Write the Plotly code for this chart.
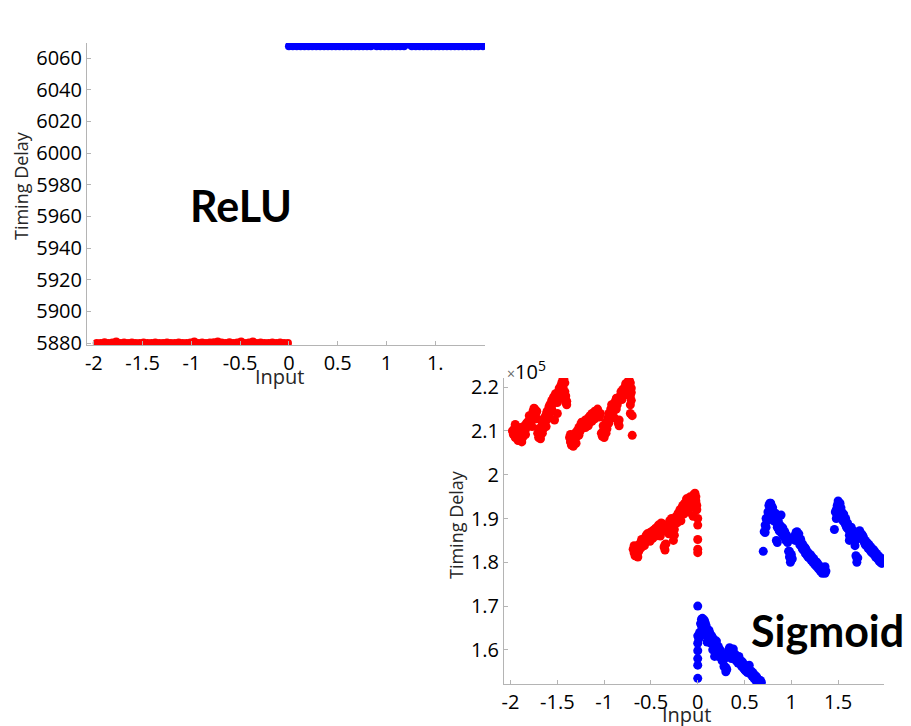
import plotly.graph_objects as go

# ---------------- ReLU panel data ----------------
relu_neg_x = [-1.97, -1.93, -1.89, -1.85, -1.81, -1.77, -1.73, -1.69, -1.65, -1.61,
              -1.57, -1.53, -1.49, -1.45, -1.41, -1.37, -1.33, -1.29, -1.25, -1.21,
              -1.17, -1.13, -1.09, -1.05, -1.01, -0.97, -0.93, -0.89, -0.85, -0.81,
              -0.77, -0.73, -0.69, -0.65, -0.61, -0.57, -0.53, -0.49, -0.45, -0.41,
              -0.37, -0.33, -0.29, -0.25, -0.21, -0.17, -0.13, -0.09, -0.05, -0.01]
relu_neg_y = [5880, 5880, 5880.5, 5880, 5880.4, 5881, 5880, 5880.3, 5880, 5880.4,
              5880, 5880, 5880.3, 5880, 5880, 5880.4, 5880, 5880, 5880.3, 5880,
              5880, 5880.4, 5880, 5880, 5880.3, 5881, 5880, 5880.4, 5880, 5880.3,
              5880.5, 5881, 5880.4, 5880, 5880.5, 5880, 5880.3, 5881, 5880, 5880.3,
              5881, 5880, 5880.4, 5880, 5880, 5880.3, 5880, 5880.4, 5880, 5880]
relu_pos_x = [0.00, 0.04, 0.08, 0.12, 0.16, 0.20, 0.24, 0.28, 0.32, 0.36,
              0.40, 0.44, 0.48, 0.52, 0.56, 0.60, 0.64, 0.68, 0.72, 0.76,
              0.80, 0.84, 0.87, 0.90, 0.94, 0.98, 1.02, 1.06, 1.10, 1.14,
              1.18, 1.23, 1.26, 1.30, 1.34, 1.38, 1.42, 1.46, 1.50, 1.54,
              1.58, 1.62, 1.66, 1.70, 1.74, 1.78, 1.82, 1.86, 1.90, 1.94, 1.99]
relu_pos_y = [6067.5, 6067.5, 6067.5, 6067.5, 6067.5, 6067.5, 6067.5, 6067.5, 6067.5, 6067.5,
              6067.5, 6067.5, 6067.5, 6067.5, 6067.5, 6067.5, 6067.5, 6067.5, 6067.5, 6067.5,
              6067.5, 6067.5, 6068.6, 6067.5, 6067.5, 6067.5, 6067.5, 6067.5, 6067.5, 6067.5,
              6067.5, 6068.6, 6067.5, 6067.5, 6067.5, 6067.5, 6067.5, 6067.5, 6067.5, 6067.5,
              6067.5, 6067.5, 6067.5, 6067.5, 6067.5, 6067.5, 6067.5, 6067.5, 6067.5, 6067.5, 6067.5]

# ---------------- Sigmoid panel data (timing delay in units of 1e5) ----------------
# inputs below zero
sig_neg_x = [
    -1.98, -1.97, -1.96, -1.95, -1.94, -1.93, -1.92, -1.91, -1.90, -1.89, -1.88, -1.87, -1.86,
    -1.85, -1.84, -1.83, -1.82, -1.81, -1.80, -1.79, -1.78, -1.77, -1.76, -1.75, -1.74, -1.73,
    -1.72, -1.71, -1.70, -1.69, -1.68, -1.67, -1.66, -1.65, -1.64, -1.63, -1.62, -1.61, -1.60,
    -1.59, -1.58, -1.57, -1.56, -1.55, -1.54, -1.53, -1.52, -1.51, -1.50, -1.49, -1.48, -1.47,
    -1.46, -1.45, -1.44, -1.43, -1.42, -1.41, -1.40,
    -1.37, -1.36, -1.35, -1.34, -1.33, -1.32, -1.31, -1.30, -1.29, -1.28, -1.27, -1.26, -1.25,
    -1.24, -1.23, -1.22, -1.21, -1.20, -1.19, -1.18, -1.17, -1.16, -1.15, -1.14, -1.13, -1.12,
    -1.11, -1.10, -1.09, -1.08, -1.07, -1.06, -1.05,
    -1.03, -1.02, -1.01, -1.00, -0.99, -0.98, -0.97, -0.96, -0.95, -0.94, -0.93, -0.92, -0.91,
    -0.90, -0.89, -0.88, -0.87, -0.86, -0.85, -0.84, -0.83, -0.82, -0.81, -0.80, -0.79, -0.78,
    -0.77, -0.76, -0.75, -0.74, -0.73, -0.72, -0.71, -0.72, -0.71, -0.72, -0.70, -0.70,
    -0.69, -0.68, -0.67, -0.66, -0.65, -0.64, -0.63, -0.62, -0.61, -0.60, -0.59, -0.58, -0.57,
    -0.56, -0.55, -0.54, -0.53, -0.52, -0.51, -0.50, -0.49, -0.48, -0.47, -0.46, -0.45, -0.44,
    -0.43, -0.42, -0.41, -0.40, -0.39, -0.38, -0.37, -0.36, -0.35, -0.34, -0.33, -0.32, -0.31,
    -0.30, -0.29, -0.28, -0.27, -0.26, -0.25, -0.24, -0.23, -0.22, -0.21, -0.20, -0.19, -0.18,
    -0.17, -0.16, -0.15, -0.14, -0.13, -0.12, -0.11, -0.10, -0.09, -0.08, -0.07, -0.06, -0.05,
    -0.04, -0.03, -0.02, -0.01, 0.00, 0.00, 0.00, 0.00, 0.00,
    -1.95, -1.92, -1.88, -1.84, -1.80, -1.77, -1.75, -1.72, -1.70, -1.68, -1.66, -1.62, -1.58,
    -1.56, -1.53, -1.50, -1.48, -1.46, -1.44, -1.42, -1.41, -1.40,
    -1.36, -1.33, -1.30, -1.27, -1.24, -1.20, -1.17, -1.13, -1.10, -1.07, -1.04, -1.01, -0.98,
    -0.95, -0.92, -0.89, -0.87, -0.84, -0.81, -0.78, -0.76, -0.74, -0.73, -0.72, -0.71,
    -0.68, -0.66, -0.63, -0.60, -0.57, -0.54, -0.51, -0.48, -0.45, -0.42, -0.40, -0.38, -0.35,
    -0.31, -0.28, -0.25, -0.22, -0.19, -0.16, -0.13, -0.11, -0.08, -0.06, -0.04, -0.02, -0.01]
sig_neg_y = [
    2.100, 2.092, 2.105, 2.085, 2.110, 2.097, 2.078, 2.102, 2.090, 2.108, 2.095, 2.085, 2.100,
    2.112, 2.104, 2.118, 2.110, 2.122, 2.115, 2.128, 2.120, 2.135, 2.145, 2.130, 2.150, 2.140,
    2.128, 2.095, 2.085, 2.100, 2.090, 2.110, 2.120, 2.105, 2.130, 2.118, 2.138, 2.145, 2.128,
    2.155, 2.160, 2.148, 2.170, 2.162, 2.178, 2.125, 2.185, 2.172, 2.140, 2.190, 2.198, 2.185,
    2.205, 2.212, 2.200, 2.218, 2.190, 2.165, 2.168,
    2.085, 2.075, 2.068, 2.090, 2.080, 2.070, 2.095, 2.085, 2.100, 2.092, 2.108, 2.098, 2.115,
    2.105, 2.120, 2.110, 2.118, 2.125, 2.112, 2.122, 2.130, 2.118, 2.135, 2.125, 2.140, 2.130,
    2.138, 2.128, 2.145, 2.135, 2.150, 2.140, 2.132,
    2.095, 2.088, 2.100, 2.085, 2.110, 2.120, 2.105, 2.130, 2.118, 2.140, 2.150, 2.135, 2.155,
    2.162, 2.148, 2.168, 2.175, 2.160, 2.118, 2.125, 2.180, 2.190, 2.172, 2.195, 2.185, 2.200,
    2.208, 2.192, 2.212, 2.205, 2.215, 2.180, 2.170, 2.160, 2.188, 2.140, 2.135, 2.090,
    1.830, 1.822, 1.815, 1.835, 1.825, 1.812, 1.840, 1.830, 1.845, 1.835, 1.850, 1.840, 1.855,
    1.845, 1.862, 1.850, 1.858, 1.865, 1.848, 1.862, 1.870, 1.855, 1.868, 1.875, 1.860, 1.872,
    1.880, 1.865, 1.885, 1.875, 1.890, 1.870, 1.880, 1.835, 1.828, 1.842, 1.872, 1.885, 1.878,
    1.895, 1.888, 1.900, 1.880, 1.850, 1.862, 1.895, 1.905, 1.890, 1.912, 1.900, 1.920, 1.895,
    1.925, 1.930, 1.910, 1.935, 1.920, 1.945, 1.930, 1.915, 1.940, 1.950, 1.925, 1.935, 1.905,
    1.955, 1.958, 1.940, 1.920, 1.900, 1.885, 1.852, 1.830, 1.822,
    2.115, 2.088, 2.075, 2.092, 2.135, 2.110, 2.152, 2.145, 2.105, 2.082, 2.095, 2.110, 2.140,
    2.150, 2.165, 2.165, 2.175, 2.190, 2.222, 2.210, 2.180, 2.160,
    2.092, 2.065, 2.072, 2.090, 2.120, 2.108, 2.112, 2.122, 2.145, 2.135, 2.140, 2.112, 2.095,
    2.140, 2.160, 2.130, 2.150, 2.112, 2.185, 2.182, 2.205, 2.195, 2.200, 2.210, 2.198,
    1.838, 1.818, 1.825, 1.852, 1.838, 1.865, 1.868, 1.872, 1.878, 1.885, 1.860, 1.888, 1.840,
    1.865, 1.890, 1.875, 1.900, 1.905, 1.918, 1.932, 1.945, 1.932, 1.948, 1.935, 1.950, 1.930]

# inputs at or above zero
sig_pos_x = [
    0.00, 0.00, 0.00, 0.00, 0.00, 0.00, 0.00, 0.01, 0.02, 0.03, 0.04, 0.05, 0.06, 0.07, 0.08,
    0.09, 0.10, 0.11, 0.12, 0.13, 0.14, 0.15, 0.16, 0.17, 0.18, 0.19, 0.20, 0.21, 0.22, 0.23,
    0.24, 0.25, 0.26, 0.27, 0.28, 0.29, 0.30, 0.31, 0.32, 0.33, 0.34, 0.35, 0.36, 0.37, 0.38,
    0.39, 0.40, 0.41, 0.42, 0.43, 0.44, 0.45, 0.46, 0.47, 0.48, 0.49, 0.50, 0.51, 0.52, 0.53,
    0.54, 0.55, 0.56, 0.57, 0.58, 0.59, 0.60, 0.61, 0.62, 0.63, 0.64, 0.65, 0.66, 0.67, 0.68,
    0.70, 0.71, 0.72, 0.72, 0.73, 0.74, 0.75, 0.76, 0.77, 0.78, 0.79, 0.80, 0.81, 0.82, 0.83,
    0.84, 0.84, 0.85, 0.85, 0.86, 0.87, 0.88, 0.89, 0.90, 0.91, 0.92, 0.93, 0.94, 0.95, 0.96,
    0.97, 0.98, 0.99, 1.00, 1.01, 1.03, 1.04, 1.05, 1.06, 1.07, 1.08, 1.09, 1.10, 1.11, 1.12,
    1.13, 1.14, 1.15, 1.16, 1.17, 1.18, 1.19, 1.20, 1.21, 1.22, 1.23, 1.24, 1.25, 1.26, 1.27,
    1.28, 1.29, 1.30, 1.31, 1.32, 1.33, 1.34, 1.35, 1.36, 1.37,
    1.46, 1.47, 1.48, 1.49, 1.50, 1.51, 1.52, 1.53, 1.54, 1.55, 1.56, 1.57, 1.58, 1.59, 1.60,
    1.61, 1.62, 1.63, 1.64, 1.65, 1.66, 1.67, 1.68, 1.69, 1.70, 1.71, 1.72, 1.73, 1.74, 1.75,
    1.76, 1.77, 1.78, 1.79, 1.80, 1.81, 1.82, 1.83, 1.84, 1.85, 1.86, 1.87, 1.88, 1.89, 1.90,
    1.91, 1.92, 1.93, 1.94, 1.95, 1.96, 1.97, 1.98,
    0.02, 0.04, 0.06, 0.08, 0.10, 0.12, 0.14, 0.16, 0.18, 0.20, 0.22, 0.24, 0.28, 0.30, 0.33,
    0.36, 0.38, 0.41, 0.44, 0.47, 0.50, 0.53, 0.56, 0.59, 0.62, 0.65,
    0.73, 0.75, 0.77, 0.79, 0.81, 0.83, 0.86, 0.88, 0.90, 0.92, 0.95, 0.98, 1.00, 1.04, 1.06,
    1.09, 1.12, 1.15, 1.18, 1.21, 1.24, 1.27, 1.30, 1.33, 1.36,
    1.48, 1.50, 1.52, 1.54, 1.56, 1.58, 1.60, 1.62, 1.64, 1.66, 1.68, 1.70, 1.73, 1.76, 1.79,
    1.82, 1.85, 1.88, 1.91, 1.94, 1.97]
sig_pos_y = [
    1.700, 1.632, 1.615, 1.598, 1.580, 1.565, 1.535, 1.625, 1.640, 1.660, 1.670, 1.672, 1.650,
    1.668, 1.640, 1.655, 1.630, 1.645, 1.620, 1.638, 1.615, 1.632, 1.600, 1.625, 1.585, 1.612,
    1.620, 1.598, 1.608, 1.590, 1.600, 1.582, 1.575, 1.590, 1.578, 1.560, 1.550, 1.555, 1.585,
    1.600, 1.605, 1.592, 1.598, 1.585, 1.602, 1.580, 1.590, 1.575, 1.582, 1.570, 1.585, 1.568,
    1.575, 1.562, 1.572, 1.558, 1.565, 1.552, 1.560, 1.548, 1.555, 1.565, 1.545, 1.552, 1.540,
    1.548, 1.535, 1.542, 1.530, 1.538, 1.525, 1.532, 1.522, 1.530, 1.526,
    1.825, 1.870, 1.885, 1.868, 1.900, 1.895, 1.915, 1.930, 1.922, 1.935, 1.915, 1.925, 1.905,
    1.898, 1.912, 1.890, 1.850, 1.880, 1.845, 1.895, 1.872, 1.885, 1.908, 1.865, 1.878, 1.858,
    1.870, 1.850, 1.862, 1.845, 1.825, 1.812, 1.800, 1.818, 1.808, 1.855, 1.862, 1.868, 1.860,
    1.850, 1.865, 1.840, 1.852, 1.835, 1.842, 1.828, 1.835, 1.820, 1.828, 1.815, 1.822, 1.810,
    1.818, 1.805, 1.812, 1.800, 1.808, 1.795, 1.802, 1.790, 1.798, 1.785, 1.792, 1.780, 1.788,
    1.775, 1.782, 1.778, 1.790, 1.780,
    1.875, 1.915, 1.900, 1.930, 1.940, 1.920, 1.910, 1.925, 1.905, 1.895, 1.910, 1.890, 1.900,
    1.880, 1.890, 1.875, 1.850, 1.855, 1.880, 1.868, 1.860, 1.850, 1.838, 1.815, 1.800, 1.810,
    1.868, 1.872, 1.860, 1.865, 1.852, 1.858, 1.845, 1.850, 1.838, 1.845, 1.832, 1.840, 1.828,
    1.835, 1.822, 1.830, 1.818, 1.825, 1.812, 1.820, 1.808, 1.815, 1.802, 1.810, 1.798, 1.805,
    1.808,
    1.630, 1.655, 1.638, 1.662, 1.618, 1.645, 1.628, 1.615, 1.605, 1.590, 1.585, 1.588, 1.562,
    1.560, 1.595, 1.580, 1.590, 1.585, 1.575, 1.572, 1.555, 1.560, 1.550, 1.540, 1.540, 1.528,
    1.880, 1.905, 1.935, 1.928, 1.895, 1.900, 1.878, 1.870, 1.880, 1.862, 1.850, 1.825, 1.805,
    1.850, 1.870, 1.855, 1.830, 1.832, 1.812, 1.815, 1.800, 1.800, 1.785, 1.785, 1.775,
    1.920, 1.925, 1.935, 1.915, 1.900, 1.885, 1.878, 1.862, 1.865, 1.872, 1.848, 1.810, 1.860,
    1.862, 1.840, 1.842, 1.825, 1.828, 1.812, 1.812, 1.798]

x_ticks = [-2, -1.5, -1, -0.5, 0, 0.5, 1, 1.5]
relu_x_ticktext = ["-2", "-1.5", "-1", "-0.5", "0", "0.5", "1", "1."]
sig_x_ticktext = ["-2", "-1.5", "-1", "-0.5", "0", "0.5", "1", "1.5"]
relu_y_ticks = [5880, 5900, 5920, 5940, 5960, 5980, 6000, 6020, 6040, 6060]
sig_y_ticks = [1.6, 1.7, 1.8, 1.9, 2.0, 2.1, 2.2]
sig_y_ticktext = ["1.6", "1.7", "1.8", "1.9", "2", "2.1", "2.2"]

RED = "#ff0000"
BLUE = "#0000ff"
W, H = 911, 726
TICK_FONT = dict(family="Open Sans", size=20, color="#000000")
LABEL_FONT = dict(family="Open Sans", size=18, color="#262626")
INPUT_FONT = dict(family="Open Sans", size=20, color="#262626")

fig = go.Figure()

def dots(x, y, color, xa, ya, size):
    fig.add_trace(go.Scatter(x=x, y=y, mode="markers", xaxis=xa, yaxis=ya,
                             marker=dict(color=color, size=size, line=dict(width=0)),
                             showlegend=False, hoverinfo="x+y"))

dots(relu_neg_x, relu_neg_y, RED, "x", "y", 8)
dots(relu_pos_x, relu_pos_y, BLUE, "x", "y", 8)
dots(sig_neg_x, sig_neg_y, RED, "x2", "y2", 9)
dots(sig_pos_x, sig_pos_y, BLUE, "x2", "y2", 9)

axis_common = dict(showgrid=False, zeroline=False, showline=True, linecolor="#b4b4b4",
                   linewidth=1, ticks="inside", ticklen=4, tickcolor="#b4b4b4",
                   tickfont=TICK_FONT, mirror=False, automargin=False)

def px_x(p):
    return p / W

def px_y(p):
    return 1 - p / H

fig.update_layout(
    width=W, height=H,
    margin=dict(l=0, r=0, t=0, b=0),
    paper_bgcolor="white", plot_bgcolor="white",
    xaxis=dict(domain=[px_x(87), px_x(485)], range=[-2.07, 2.01], anchor="y",
               tickvals=x_ticks, ticktext=relu_x_ticktext, **axis_common),
    yaxis=dict(domain=[px_y(345), px_y(43)], range=[5878.8, 6069.5], anchor="x",
               tickvals=relu_y_ticks, **axis_common),
    xaxis2=dict(domain=[px_x(504), px_x(884)], range=[-2.07, 1.99], anchor="y2",
                tickvals=x_ticks, ticktext=sig_x_ticktext, **axis_common),
    yaxis2=dict(domain=[px_y(684), px_y(378)], range=[1.522, 2.221], anchor="x2",
                tickvals=sig_y_ticks, ticktext=sig_y_ticktext, **axis_common),
)

def text(s, x, y, font, angle=0, xanchor="center", yanchor="middle"):
    fig.add_annotation(text=s, x=px_x(x), y=px_y(y), xref="paper", yref="paper",
                       showarrow=False, font=font, textangle=angle,
                       xanchor=xanchor, yanchor=yanchor)

# axis titles
text("Timing Delay", 21, 186, LABEL_FONT, angle=-90)
text("Input", 279, 376, INPUT_FONT)
text("Timing Delay", 456, 525, LABEL_FONT, angle=-90)
text("Input", 686, 714, INPUT_FONT)
# exponent of the sigmoid y axis
text("<span style='font-size:14px;color:#666666'>×</span>10<sup>5</sup>", 505, 370,
     dict(family="Open Sans", size=20, color="#000000"), xanchor="left")

# panel names
BIG = dict(family="Lato", size=43, color="#000000")
text("<b>ReLU</b>", 241, 206, BIG)
text("<b>Sigmoid</b>", 827, 630, BIG)

fig.write_html("out.html")
